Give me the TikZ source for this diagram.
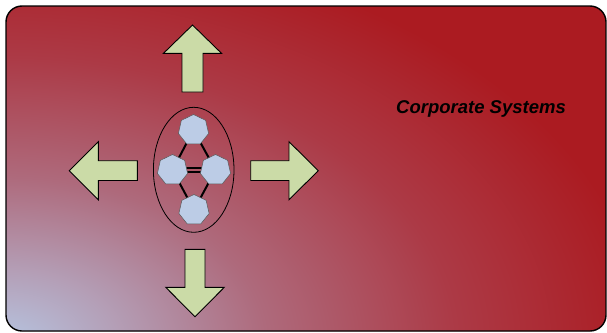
\documentclass[tikz,border=0pt]{standalone}
\usepackage{fontspec}
\setmainfont{Liberation Sans}
\usetikzlibrary{shapes.geometric}
\definecolor{bgred}{HTML}{AB1B21}
\definecolor{bgdeep}{HTML}{AC3A46}
\definecolor{bgmid}{HTML}{AE6A7C}
\definecolor{bgpink}{HTML}{B4A0B8}
\definecolor{bgblue}{HTML}{B6C6E2}
\definecolor{arrowgreen}{HTML}{CBDBA7}
\definecolor{hepblue}{HTML}{BCCCE6}
\pgfdeclareradialshading{corpbg}{\pgfpoint{0bp}{0bp}}{color(0bp)=(bgblue); color(3bp)=(bgpink); color(7bp)=(bgmid); color(12bp)=(bgdeep); color(17bp)=(bgred); color(50bp)=(bgred)}
\tikzset{
  blockarrow/.style={fill=arrowgreen, draw=black, line width=0.9pt, line join=miter},
  hep/.style={regular polygon, regular polygon sides=7, minimum size=31pt, inner sep=0pt, fill=hepblue, draw=black!65, line width=0.5pt},
  link/.style={line width=2pt, black},
  title/.style={font=\fontsize{18.5}{22}\selectfont\bfseries\itshape, text=black}
}
\begin{document}
\begin{tikzpicture}[x=1pt,y=-1pt]
\useasboundingbox (0,0) rectangle (607,332);
% background panel
\begin{scope}
  \clip[rounded corners=16pt] (6,6) rectangle (606,331);
  \fill[bgred] (0,0) rectangle (607,332);
  \shade[shading=corpbg] (0,345) ellipse [x radius=950, y radius=600];
\end{scope}
\draw[black, line width=1.4pt, rounded corners=16pt] (6,6) rectangle (606,331);
% title
\node[title] (title) at (481,109) {Corporate Systems};
% block arrows
\draw[blockarrow] (192.5,25) -- (221.5,53.3) -- (203,53.3) -- (203,92) -- (182,92) -- (182,53.3) -- (163.5,53.3) -- cycle;
\draw[blockarrow] (195,316.7) -- (224.3,287.3) -- (205,287.3) -- (205,249.3) -- (185,249.3) -- (185,287.3) -- (165.7,287.3) -- cycle;
\draw[blockarrow] (69.3,170.7) -- (98.3,141.7) -- (98.3,160.7) -- (137.3,160.7) -- (137.3,180.5) -- (98.3,180.5) -- (98.3,199.7) -- cycle;
\draw[blockarrow] (318.3,170.7) -- (289,141.7) -- (289,160.7) -- (250.7,160.7) -- (250.7,180.5) -- (289,180.5) -- (289,199.7) -- cycle;
% cluster
\node[draw=black, line width=0.8pt, ellipse, minimum width=80.6pt, minimum height=125pt, inner sep=0pt] (cluster) at (193.7,169.8) {};
\coordinate (ctop) at (193.5,130);
\coordinate (cleft) at (172.5,170);
\coordinate (cright) at (215.5,170);
\coordinate (cbottom) at (194,210);
\draw[link] (cleft) -- (ctop) -- (cright) -- (cbottom) -- cycle;
\draw[link, line width=1.6pt] ([yshift=-2.2pt]cleft) -- ([yshift=-2.2pt]cright);
\draw[link, line width=1.6pt] ([yshift=2.2pt]cleft) -- ([yshift=2.2pt]cright);
\node[hep] (top) at (ctop) {};
\node[hep] (left) at (cleft) {};
\node[hep] (right) at (cright) {};
\node[hep] (bottom) at (cbottom) {};
\end{tikzpicture}
\end{document}
